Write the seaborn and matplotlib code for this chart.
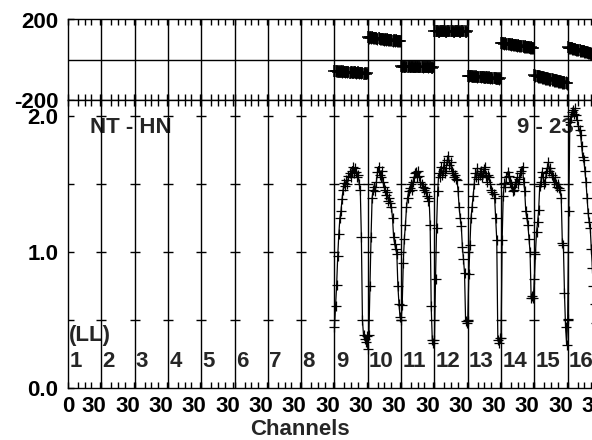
import numpy as np
import pandas as pd
import matplotlib
matplotlib.use("Agg")
import matplotlib.pyplot as plt
import matplotlib.transforms as mtransforms
import seaborn as sns

# ---------------- data ----------------
n_if = 16
n_chan = 31
if_numbers = list(range(1, 17))
data_ifs = [9, 10, 11, 12, 13, 14, 15, 16]
x_tick_labels = ["0"] + ["30"] * 16
phase_ticks = [-200, 200]
phase_tick_labels = ["-200", "200"]
amp_ticks = [0.0, 1.0, 2.0]
amp_tick_labels = ["0.0", "1.0", "2.0"]
amp_cross_ticks = [0.5, 1.0, 1.5, 2.0]
baseline_label = "NT - HN"
time_label = "9 - 23"
pol_label = "(LL)"
x_label = "Channels"

amp_if09 = [0.45, 0.60, 0.76, 0.97, 1.13, 1.25, 1.30, 1.39, 1.46, 1.51, 1.49, 1.53, 1.50, 1.56, 1.58, 1.55,
            1.60, 1.63, 1.58, 1.62, 1.59, 1.55, 1.57, 1.50, 1.46, 1.11, 0.50, 0.39, 0.36, 0.34, 0.38]
amp_if10 = [0.29, 0.39, 0.75, 1.11, 1.40, 1.46, 1.48, 1.45, 1.52, 1.59, 1.63, 1.57, 1.55, 1.60, 1.52, 1.48,
            1.46, 1.42, 1.44, 1.38, 1.40, 1.36, 1.33, 1.25, 1.11, 1.06, 1.02, 0.99, 0.75, 0.62, 0.52]
amp_if11 = [0.50, 0.61, 0.92, 1.10, 1.20, 1.33, 1.40, 1.45, 1.47, 1.50, 1.46, 1.52, 1.55, 1.58, 1.59, 1.55,
            1.60, 1.56, 1.52, 1.50, 1.48, 1.46, 1.47, 1.44, 1.41, 1.38, 1.40, 1.20, 0.60, 0.35, 0.33]
amp_if12 = [0.35, 0.80, 1.18, 1.45, 1.58, 1.55, 1.63, 1.57, 1.60, 1.66, 1.58, 1.62, 1.68, 1.71, 1.64, 1.66,
            1.60, 1.58, 1.55, 1.57, 1.54, 1.53, 1.45, 1.33, 1.25, 1.19, 1.04, 0.95, 0.85, 0.49, 0.48]
amp_if13 = [0.49, 0.84, 1.05, 1.25, 1.33, 1.41, 1.50, 1.58, 1.55, 1.62, 1.54, 1.57, 1.60, 1.55, 1.58, 1.61,
            1.63, 1.56, 1.52, 1.57, 1.55, 1.50, 1.46, 1.44, 1.43, 1.40, 1.25, 1.09, 0.35, 0.33, 0.37]
amp_if14 = [0.37, 1.09, 1.41, 1.51, 1.48, 1.55, 1.59, 1.56, 1.52, 1.50, 1.48, 1.45, 1.46, 1.50, 1.52, 1.55,
            1.50, 1.54, 1.58, 1.60, 1.63, 1.52, 1.45, 1.30, 1.25, 1.20, 1.10, 1.00, 0.66, 0.68, 0.66]
amp_if15 = [0.80, 0.99, 1.15, 1.22, 1.31, 1.49, 1.52, 1.59, 1.55, 1.50, 1.52, 1.58, 1.62, 1.66, 1.60, 1.62,
            1.57, 1.55, 1.52, 1.55, 1.50, 1.48, 1.50, 1.47, 1.46, 1.40, 1.07, 1.05, 0.70, 0.45, 0.32]
amp_if16 = [0.51, 1.30, 1.96, 2.00, 2.03, 2.05, 2.02, 2.06, 2.01, 1.97, 1.93, 1.90, 1.86, 1.78, 1.70, 1.68,
            1.60, 1.52, 1.40, 1.29, 1.22, 1.18, 1.02, 0.88, 0.75, 0.62, 0.48, 0.45, 0.42, 0.40, 0.40]

phase_if09 = [-55, -58, -54, -60, -57, -59, -56, -61, -58, -60, -62, -59, -63, -60, -64, -61,
              -62, -65, -63, -61, -66, -64, -62, -67, -65, -68, -64, -69, -66, -70, -68]
phase_if10 = [112, 110, 113, 108, 111, 107, 109, 106, 108, 104, 107, 103, 105, 102, 104, 100,
              103, 99, 101, 98, 100, 97, 99, 95, 98, 94, 96, 93, 95, 92, 94]
phase_if11 = [-32, -35, -31, -34, -36, -33, -35, -32, -36, -34, -33, -37, -35, -34, -36, -33,
              -37, -35, -36, -34, -38, -35, -37, -36, -34, -38, -36, -37, -35, -39, -37]
phase_if12 = [143, 141, 145, 142, 140, 144, 142, 143, 141, 145, 142, 140, 143, 144, 141, 142,
              145, 143, 140, 142, 144, 141, 143, 142, 140, 144, 142, 141, 143, 140, 142]
phase_if13 = [-80, -82, -79, -83, -81, -84, -82, -85, -83, -86, -84, -85, -87, -85, -88, -86,
              -89, -87, -88, -90, -88, -91, -89, -92, -90, -93, -91, -94, -92, -95, -93]
phase_if14 = [84, 82, 83, 80, 81, 78, 80, 77, 78, 75, 76, 74, 75, 72, 73, 70,
              71, 69, 70, 67, 68, 65, 66, 64, 65, 62, 63, 60, 61, 59, 58]
phase_if15 = [-78, -80, -81, -83, -82, -85, -86, -88, -87, -90, -91, -93, -92, -95, -96, -98,
              -97, -100, -101, -103, -102, -105, -106, -108, -107, -110, -111, -113, -112, -115, -116]
phase_if16 = [61, 60, 58, 57, 56, 54, 53, 52, 50, 49, 48, 46, 45, 44, 42, 41,
              40, 38, 37, 36, 34, 33, 31, 30, 29, 27, 26, 25, 23, 22, 20]
phase_err = [28, 30, 26, 25, 28, 30, 32, 30]

amps = [amp_if09, amp_if10, amp_if11, amp_if12, amp_if13, amp_if14, amp_if15, amp_if16]
phases = [phase_if09, phase_if10, phase_if11, phase_if12, phase_if13, phase_if14, phase_if15, phase_if16]

rows = []
for i, ifn in enumerate(data_ifs):
    for c in range(n_chan):
        rows.append({"if": ifn, "chan": c, "x": (ifn - 1) * n_chan + c,
                     "amp": amps[i][c], "phase": phases[i][c], "err": phase_err[i]})
df = pd.DataFrame(rows)

# ---------------- style ----------------
sns.set_style("ticks")
plt.rcParams["font.family"] = ["Liberation Sans", "DejaVu Sans"]
plt.rcParams["font.weight"] = "bold"
plt.rcParams["axes.edgecolor"] = "black"
plt.rcParams["axes.linewidth"] = 1.0
plt.rcParams["xtick.color"] = "black"
plt.rcParams["ytick.color"] = "black"
FS = 16

W, H = 592, 440
fig = plt.figure(figsize=(W / 100, H / 100), dpi=100)
ax_p = fig.add_axes([68 / W, (H - 100) / H, 533 / W, 80.5 / H])
ax_a = fig.add_axes([68 / W, (H - 388) / H, 533 / W, 288 / H])

x_max = n_if * n_chan
boundaries = [k * n_chan for k in range(1, n_if)]
major_x = [0] + [k * n_chan + (n_chan - 1) for k in range(n_if)]
minor_x = [k * n_chan + m for k in range(n_if) for m in (9.3, 15.5, 21.7)] + boundaries

for ax in (ax_p, ax_a):
    ax.set_xlim(0, x_max)
    for b in boundaries:
        ax.axvline(b, color="black", lw=1.0, zorder=1)
    ax.set_xticks(major_x)
    ax.set_xticks(minor_x, minor=True)
    ax.tick_params(axis="x", which="both", direction="in", top=True, bottom=True,
                   length=4, width=1, labelsize=FS, pad=6)
    ax.tick_params(axis="y", which="both", direction="in", length=4, width=1,
                   labelsize=FS, pad=7, right=False)
    for s in ax.spines.values():
        s.set_linewidth(1.0)
        s.set_color("black")

# ---- phase panel ----
ax_p.set_ylim(-200, 200)
ax_p.axhline(0, color="black", lw=1.0, zorder=1)
ax_p.set_yticks(phase_ticks)
ax_p.set_yticklabels(phase_tick_labels, fontweight="bold")
ax_p.tick_params(axis="x", labelbottom=False)
ax_p.errorbar(df["x"], df["phase"], yerr=df["err"], fmt="none", ecolor="black",
              elinewidth=0.8, capsize=0, zorder=2)
sns.lineplot(data=df, x="x", y="phase", units="if", estimator=None, sort=False,
             color="black", linewidth=1.0, marker="+", markersize=8,
             markeredgewidth=1.1, markeredgecolor="black", ax=ax_p, zorder=3)
ax_p.set_xlabel("")
ax_p.set_ylabel("")

# ---- amplitude panel ----
ax_a.set_ylim(0, 2.12)
ax_a.set_yticks(amp_cross_ticks, minor=True)
ax_a.set_yticks(amp_ticks)
ax_a.set_yticklabels(amp_tick_labels, fontweight="bold")
for t in amp_cross_ticks:
    ax_a.plot(boundaries, [t] * len(boundaries), ls="none", marker="_", ms=7,
              mew=1.0, color="black", zorder=1)
sns.lineplot(data=df, x="x", y="amp", estimator=None, sort=False,
             color="black", linewidth=0.9, marker="+", markersize=7.5,
             markeredgewidth=0.9, markeredgecolor="black", ax=ax_a, zorder=3)
ax_a.set_xlabel("")
ax_a.set_ylabel("")
ax_a.set_xticklabels(x_tick_labels, fontweight="bold")

# shift "30" labels slightly left, as in the original
shift = mtransforms.ScaledTranslation(-6 / 100, 0, fig.dpi_scale_trans)
for i, lab in enumerate(ax_a.get_xticklabels()):
    if i > 0:
        lab.set_transform(lab.get_transform() + shift)

# ---- annotations ----
ax_a.text(20.8, 1.875, baseline_label, fontsize=FS, fontweight="bold",
          ha="left", va="baseline", zorder=0)
ax_a.text(417.7, 1.875, time_label, fontsize=FS, fontweight="bold",
          ha="left", va="baseline", zorder=0)
ax_a.text(1.0, 0.345, pol_label, fontsize=FS, fontweight="bold",
          ha="left", va="baseline", zorder=0)
for k, n in enumerate(if_numbers):
    ax_a.text(k * n_chan + 1.2, 0.155, str(n), fontsize=FS, fontweight="bold",
              ha="left", va="baseline", zorder=0)

fig.text(300 / W, 5 / H, x_label, fontsize=FS, fontweight="bold",
         ha="center", va="baseline")

fig.savefig("out.png", dpi=100)
